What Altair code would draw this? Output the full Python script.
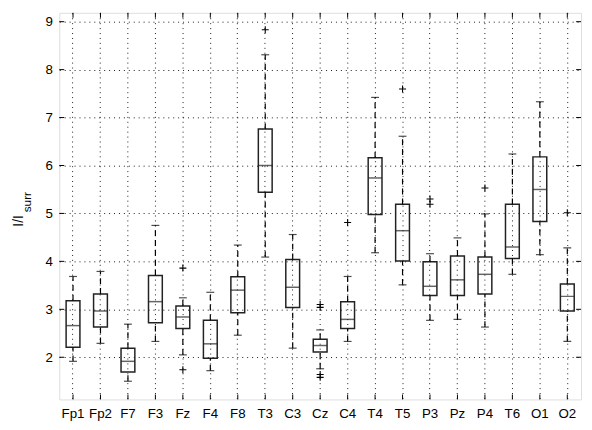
import altair as alt
import pandas as pd

names = ["Fp1", "Fp2", "F7", "F3", "Fz", "F4", "F8", "T3", "C3", "Cz",
         "C4", "T4", "T5", "P3", "Pz", "P4", "T6", "O1", "O2"]
whisker_low = [1.915, 2.29, 1.50, 2.33, 2.05, 1.72, 2.46, 4.09, 2.19, 1.76,
               2.33, 4.18, 3.51, 2.77, 2.79, 2.63, 3.73, 4.14, 2.33]
q1 = [2.21, 2.63, 1.69, 2.72, 2.60, 1.98, 2.93, 5.44, 3.04, 2.11,
      2.60, 4.98, 4.01, 3.29, 3.29, 3.32, 4.06, 4.83, 2.965]
median = [2.66, 2.965, 1.915, 3.16, 2.84, 2.28, 3.40, 6.00, 3.46, 2.245,
          2.79, 5.74, 4.64, 3.48, 3.615, 3.73, 4.30, 5.50, 3.27]
q3 = [3.18, 3.32, 2.19, 3.705, 3.07, 2.77, 3.68, 6.76, 4.04, 2.375,
      3.16, 6.16, 5.19, 3.99, 4.11, 4.09, 5.19, 6.18, 3.53]
whisker_high = [3.685, 3.79, 2.69, 4.75, 3.24, 3.355, 4.34, 8.31, 4.56, 2.57,
                3.685, 7.42, 6.61, 4.16, 4.49, 4.99, 6.24, 7.33, 4.28]
outlier_channel = ["Fz", "Fz", "T3", "Cz", "Cz", "Cz", "Cz", "C4", "T5",
                   "P3", "P3", "P4", "O2"]
outlier_value = [3.86, 1.74, 8.83, 3.10, 3.04, 1.64, 1.58, 4.81, 7.595,
                 5.30, 5.19, 5.53, 5.015]
y_ticks = [2, 3, 4, 5, 6, 7, 8, 9]

W, H = 529, 392
YDOM = [1.12, 9.185]

df = pd.DataFrame({"ch": names, "lo": whisker_low, "q1": q1, "med": median,
                   "q3": q3, "hi": whisker_high})
dfo = pd.DataFrame({"ch": outlier_channel, "v": outlier_value})
dft = pd.DataFrame({"v": y_ticks})

xenc = alt.X("ch:N", sort=names, title=None,
             scale=alt.Scale(paddingInner=0, paddingOuter=0),
             axis=alt.Axis(labelAngle=0, labelFont="Liberation Sans", labelFontSize=13.5,
                           labelColor="black", labelPadding=7, ticks=False, tickSize=0,
                           domain=False, grid=True, gridDash=[1, 4], gridColor="black",
                           gridOpacity=0.9, labelOverlap=False, labelBound=False))
yscale = alt.Scale(domain=YDOM, nice=False, zero=False)
yenc = alt.Y("q1:Q", scale=yscale, title=None,
             axis=alt.Axis(values=y_ticks, labelFont="Liberation Sans", labelFontSize=13.5,
                           labelColor="black", labelPadding=7, ticks=False, tickSize=0,
                           domain=False, grid=True, gridDash=[1, 4], gridColor="black",
                           gridOpacity=0.9))

base = alt.Chart(df)

box = base.mark_bar(size=14, fillOpacity=0, stroke="#222222", strokeWidth=1.5).encode(
    x=xenc, y=yenc, y2="q3:Q")
med_t = base.mark_tick(size=14, thickness=1.5, orient="horizontal", color="#222222").encode(
    x=alt.X("ch:N", sort=names), y=alt.Y("med:Q", scale=yscale))
wl = base.mark_rule(color="black", strokeDash=[6, 4], strokeWidth=1.2).encode(
    x=alt.X("ch:N", sort=names), y=alt.Y("lo:Q", scale=yscale), y2="q1:Q")
wh = base.mark_rule(color="black", strokeDash=[6, 4], strokeWidth=1.2).encode(
    x=alt.X("ch:N", sort=names), y=alt.Y("q3:Q", scale=yscale), y2="hi:Q")
cap_l = base.mark_tick(size=8, thickness=1.2, orient="horizontal", color="black").encode(
    x=alt.X("ch:N", sort=names), y=alt.Y("lo:Q", scale=yscale))
cap_h = base.mark_tick(size=8, thickness=1.2, orient="horizontal", color="black").encode(
    x=alt.X("ch:N", sort=names), y=alt.Y("hi:Q", scale=yscale))
outl = alt.Chart(dfo).mark_point(shape="M-1,0L1,0M0,-1L0,1", size=50, filled=False,
                                 color="black", strokeWidth=1.1, opacity=1).encode(
    x=alt.X("ch:N", sort=names), y=alt.Y("v:Q", scale=yscale))

# inward axis ticks (MATLAB style)
tick_top = base.mark_rule(color="black").encode(
    x=alt.X("ch:N", sort=names), y=alt.value(0), y2=alt.value(5))
tick_bot = base.mark_rule(color="black").encode(
    x=alt.X("ch:N", sort=names), y=alt.value(H - 5), y2=alt.value(H))
tick_left = alt.Chart(dft).mark_rule(color="black").encode(
    y=alt.Y("v:Q", scale=yscale), x=alt.value(0), x2=alt.value(5))
tick_right = alt.Chart(dft).mark_rule(color="black").encode(
    y=alt.Y("v:Q", scale=yscale), x=alt.value(W - 5), x2=alt.value(W))

lab_df = pd.DataFrame({"t": ["I/I"]})
lab_main = alt.Chart(lab_df).mark_text(angle=270, font="Liberation Sans", fontSize=14,
                                       align="center", baseline="middle", color="black").encode(
    x=alt.value(-41), y=alt.value(211), text="t:N")
sub_df = pd.DataFrame({"t": ["surr"]})
lab_sub = alt.Chart(sub_df).mark_text(angle=270, font="Liberation Sans", fontSize=12,
                                      align="center", baseline="middle", color="black").encode(
    x=alt.value(-33), y=alt.value(192), text="t:N")

chart = alt.layer(box, wl, wh, cap_l, cap_h, med_t, outl,
                  tick_top, tick_bot, tick_left, tick_right,
                  lab_main, lab_sub).properties(
    width=W, height=H, autosize="none",
    padding={"left": 52, "top": 2, "right": 3, "bottom": 20},
).configure_view(stroke="black", strokeWidth=1).configure(background="white")

chart.save("out.html", embed_options={"renderer": "svg", "actions": False})
